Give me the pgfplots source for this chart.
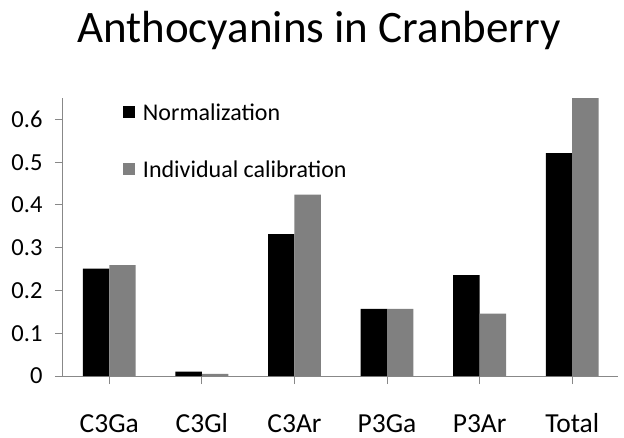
\documentclass[border=0pt]{standalone}
\usepackage{pgfplots}
\pgfplotsset{compat=1.18}
\usepackage{fontspec}
\setmainfont{Carlito}
\definecolor{axgray}{HTML}{888888}
\definecolor{bargray}{HTML}{808080}
\begin{document}
\begin{tikzpicture}
\useasboundingbox (-63bp,-62bp) rectangle (561bp,376bp);
\begin{axis}[
  at={(0,0)}, anchor=south west,
  scale only axis, width=555.5bp, height=278bp,
  xmin=-0.5, xmax=5.5, ymin=0, ymax=0.65,
  clip=true,
  axis x line=bottom, axis y line=left,
  axis line style={axgray, line width=1bp, -},
  tick style={axgray, line width=1bp},
  tick align=outside, major tick length=8bp,
  xtick={0,1,2,3,4,5},
  xticklabels={C3Ga,C3Gl,C3Ar,P3Ga,P3Ar,Total},
  ytick={0,0.1,0.2,0.3,0.4,0.5,0.6},
  /pgf/number format/assume math mode=true,
  yticklabel style={/pgf/number format/fixed, /pgf/number format/precision=1,
    font=\fontsize{24.5bp}{28bp}\selectfont, xshift=-9bp},
  xticklabel style={font=\fontsize{27.5bp}{32bp}\selectfont, anchor=base, yshift=-48bp},
  ybar=0pt, bar width=0.285,
  legend cell align=left,
  legend style={at={(rel axis cs:0.108,0.9795)}, anchor=north west,
    draw=none, fill=none, inner sep=0pt, outer sep=0pt, row sep=35bp,
    font=\fontsize{24bp}{28bp}\selectfont,
    cells={anchor=base west},
    nodes={inner sep=0pt, outer sep=0pt, text height=17bp, text depth=5bp}},
  legend image code/.code={%
    \path[draw=none, fill=none] (0bp,2.5bp) rectangle (20bp,14.5bp);
    \fill[#1,draw=none] (0bp,2.5bp) rectangle (12bp,14.5bp);},
]
\addplot[fill=black, draw=none] coordinates {(0,0.251) (1,0.010) (2,0.332) (3,0.157) (4,0.236) (5,0.521)};
\addlegendentry{Normalization}
\addplot[fill=bargray, draw=none] coordinates {(0,0.259) (1,0.005) (2,0.424) (3,0.157) (4,0.146) (5,0.650)};
\addlegendentry{Individual calibration}
\end{axis}
\node[anchor=base, font=\fontsize{45bp}{54bp}\selectfont] at (256bp,333.5bp) {Anthocyanins in Cranberry};
\end{tikzpicture}
\end{document}
